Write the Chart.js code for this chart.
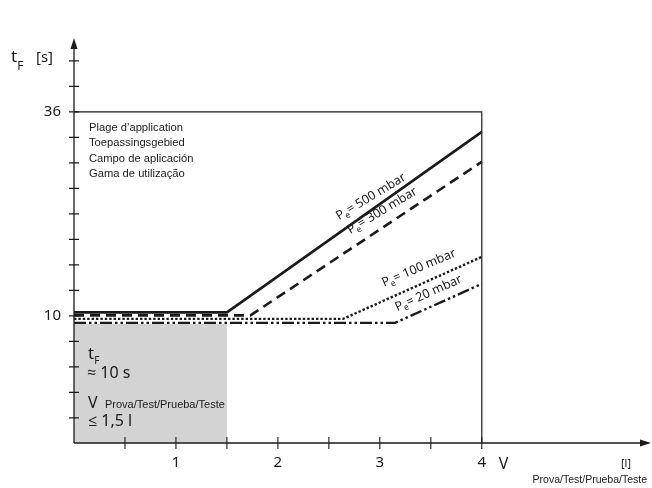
<!DOCTYPE html>
<html>
<head>
<meta charset="utf-8">
<script src="https://cdn.jsdelivr.net/npm/chart.js@4.4.0/dist/chart.umd.min.js"></script>
<style>
  html, body { margin: 0; padding: 0; background: #fff; }
  #wrap { width: 652px; height: 488px; }
</style>
</head>
<body>
<div id="wrap"><canvas id="myChart" width="652" height="488"></canvas></div>
<script>
// Curves: test volume V [l] against flushing time tF [s]
const seriesNames = ['500 mbar', '300 mbar', '100 mbar', '20 mbar'];
const vol500 = [0, 1.5, 4];
const time500 = [10.45, 10.45, 33.45];
const vol300 = [0, 1.73, 4];
const time300 = [10.06, 10.06, 29.63];
const vol100 = [0, 2.64, 4];
const time100 = [9.62, 9.62, 17.52];
const vol20 = [0, 3.15, 4];
const time20 = [9.11, 9.11, 14.08];

// Shaded test range (V <= 1,5 l, tF ~ 10 s) and application frame
const rangeVol = [0, 1.5];
const rangeTop = [8.98, 8.98];
const frameVol = [0, 4, 4];
const frameTime = [36, 36, -6.2];

// Axes
const xMin = 0, xMax = 5.65;
const yMin = -6.2, yMax = 44.9;
const xTicks = [0.5, 1, 1.5, 2, 2.5, 3, 3.5, 4];
const xTickLabels = ['', '1', '', '2', '', '3', '', '4'];
const yTicks = [-3, 0.25, 3.5, 6.75, 10, 13.25, 16.5, 19.75, 23, 26.25, 29.5, 32.75, 36, 39.25, 42.5];
const yTickLabels = ['', '', '', '', '10', '', '', '', '', '', '', '', '36', '', ''];

const ink = '#1b1b1b';
const NUM_FONT = '"Noto Sans", "Open Sans", sans-serif';
const TXT_FONT = '"Liberation Sans", Arial, sans-serif';

function pts(xs, ys) {
    return xs.map((x, i) => ({ x: x, y: ys[i] }));
}

// text with a subscript, e.g. P + e + "= 500 mbar"
function subText(ctx, x, y, main, sub, rest, size, subSize, drop) {
    ctx.font = size + 'px ' + NUM_FONT;
    ctx.fillText(main, x, y);
    let w = ctx.measureText(main).width;
    ctx.font = subSize + 'px ' + NUM_FONT;
    ctx.fillText(sub, x + w, y + drop);
    w += ctx.measureText(sub).width;
    if (rest) {
        ctx.font = size + 'px ' + NUM_FONT;
        ctx.fillText(rest, x + w, y);
    }
}

const diagramPlugin = {
    id: 'diagram',
    afterDatasetsDraw(chart) {
        const ctx = chart.ctx;
        const xs = chart.scales.x, ys = chart.scales.y;
        const x0 = xs.getPixelForValue(0);
        const yBottom = ys.getPixelForValue(yMin);
        const yTop = ys.top - 4;
        const xRight = xs.right;
        ctx.save();
        ctx.strokeStyle = ink;
        ctx.fillStyle = ink;
        ctx.lineWidth = 1.3;

        // axis lines
        ctx.beginPath();
        ctx.moveTo(x0, yBottom);
        ctx.lineTo(x0, yTop + 8);
        ctx.moveTo(x0, yBottom);
        ctx.lineTo(xRight - 8, yBottom);
        ctx.stroke();
        // arrow heads
        ctx.beginPath();
        ctx.moveTo(x0, yTop);
        ctx.lineTo(x0 - 3.5, yTop + 11);
        ctx.lineTo(x0 + 3.5, yTop + 11);
        ctx.closePath();
        ctx.fill();
        ctx.beginPath();
        ctx.moveTo(xRight + 1, yBottom);
        ctx.lineTo(xRight - 10, yBottom - 3.5);
        ctx.lineTo(xRight - 10, yBottom + 3.5);
        ctx.closePath();
        ctx.fill();

        // ticks
        ctx.lineWidth = 1.1;
        ctx.beginPath();
        yTicks.forEach(v => {
            const p = ys.getPixelForValue(v);
            ctx.moveTo(x0 - 5, p);
            ctx.lineTo(x0 + 5, p);
        });
        xTicks.forEach(v => {
            const p = xs.getPixelForValue(v);
            ctx.moveTo(p, yBottom - 6);
            ctx.lineTo(p, yBottom + 6);
        });
        ctx.stroke();

        // tick labels
        ctx.font = '15px ' + NUM_FONT;
        ctx.textAlign = 'right';
        ctx.textBaseline = 'middle';
        yTicks.forEach((v, i) => {
            if (yTickLabels[i]) ctx.fillText(yTickLabels[i], x0 - 13, ys.getPixelForValue(v));
        });
        ctx.textAlign = 'center';
        xTicks.forEach((v, i) => {
            if (xTickLabels[i]) ctx.fillText(xTickLabels[i], xs.getPixelForValue(v), yBottom + 20);
        });

        // axis titles
        ctx.textAlign = 'left';
        ctx.textBaseline = 'alphabetic';
        ctx.font = '16px ' + NUM_FONT;
        ctx.fillText('V', xs.getPixelForValue(4) + 17, yBottom + 26);
        ctx.font = '11px ' + NUM_FONT;
        ctx.fillText('[l]', 621, yBottom + 24);
        ctx.font = '10.5px ' + TXT_FONT;
        ctx.textAlign = 'right';
        ctx.fillText('Prova/Test/Prueba/Teste', 647, yBottom + 40);
        ctx.textAlign = 'left';
        subText(ctx, 11, 62, 't', 'F', '', 17, 12, 8);
        ctx.font = '15px ' + NUM_FONT;
        ctx.fillText('[s]', 36, 62);

        // application range text
        ctx.font = '11.2px ' + TXT_FONT;
        ['Plage d\u2019application', 'Toepassingsgebied', 'Campo de aplicaci\u00f3n', 'Gama de utiliza\u00e7\u00e3o']
            .forEach((t, i) => ctx.fillText(t, 89, 131 + i * 15.3));

        // shaded box text
        subText(ctx, 88, 359, 't', 'F', '', 17, 10, 5);
        ctx.font = '16px ' + NUM_FONT;
        ctx.fillText('\u2248 10 s', 87, 378);
        ctx.fillText('V', 88, 408);
        ctx.font = '11px ' + TXT_FONT;
        ctx.fillText('Prova/Test/Prueba/Teste', 105, 408);
        ctx.font = '16px ' + NUM_FONT;
        ctx.fillText('\u2264 1,5 l', 88, 426);

        // curve labels, rotated along the lines
        const tags = [
            { v: 2.6, t: 22.2, ang: -31, txt: '= 500 mbar' },
            { v: 2.71, t: 20.4, ang: -31, txt: '= 300 mbar' },
            { v: 3.04, t: 13.7, ang: -23, txt: '= 100 mbar' },
            { v: 3.17, t: 10.6, ang: -24, txt: '= 20 mbar' }
        ];
        tags.forEach(g => {
            ctx.save();
            ctx.translate(xs.getPixelForValue(g.v), ys.getPixelForValue(g.t));
            ctx.rotate(g.ang * Math.PI / 180);
            subText(ctx, 0, 0, 'P', 'e', g.txt, 12.5, 8.5, 3);
            ctx.restore();
        });
        ctx.restore();
    }
};

function initChart() {
    const data = {
        datasets: [
            { label: seriesNames[0], data: pts(vol500, time500), borderColor: ink, borderWidth: 2.6 },
            { label: seriesNames[1], data: pts(vol300, time300), borderColor: ink, borderWidth: 2.6, borderDash: [10, 6] },
            { label: seriesNames[2], data: pts(vol100, time100), borderColor: ink, borderWidth: 2.4, borderDash: [2.4, 2] },
            { label: seriesNames[3], data: pts(vol20, time20), borderColor: ink, borderWidth: 2.4, borderDash: [12, 3, 2.5, 3, 2.5, 3] },
            { label: 'frame', data: pts(frameVol, frameTime), borderColor: ink, borderWidth: 1.2 },
            { label: 'range', data: pts(rangeVol, rangeTop), borderWidth: 0, borderColor: 'rgba(0,0,0,0)',
              backgroundColor: '#d3d3d3', fill: 'start', order: 10 }
        ]
    };
    const config = {
        type: 'line',
        data: data,
        options: {
            responsive: false,
            animation: false,
            devicePixelRatio: 1,
            layout: { padding: { left: 74, right: 2, top: 42, bottom: 45 } },
            elements: { point: { radius: 0 }, line: { tension: 0, borderCapStyle: 'butt' } },
            datasets: { line: { clip: false } },
            scales: {
                x: { type: 'linear', min: xMin, max: xMax, display: false },
                y: { type: 'linear', min: yMin, max: yMax, display: false }
            },
            plugins: { legend: { display: false }, tooltip: { enabled: false } }
        },
        plugins: [diagramPlugin]
    };
    new Chart(document.getElementById('myChart'), config);
}

document.addEventListener('DOMContentLoaded', function () {
    initChart();
});
</script>
</body>
</html>
